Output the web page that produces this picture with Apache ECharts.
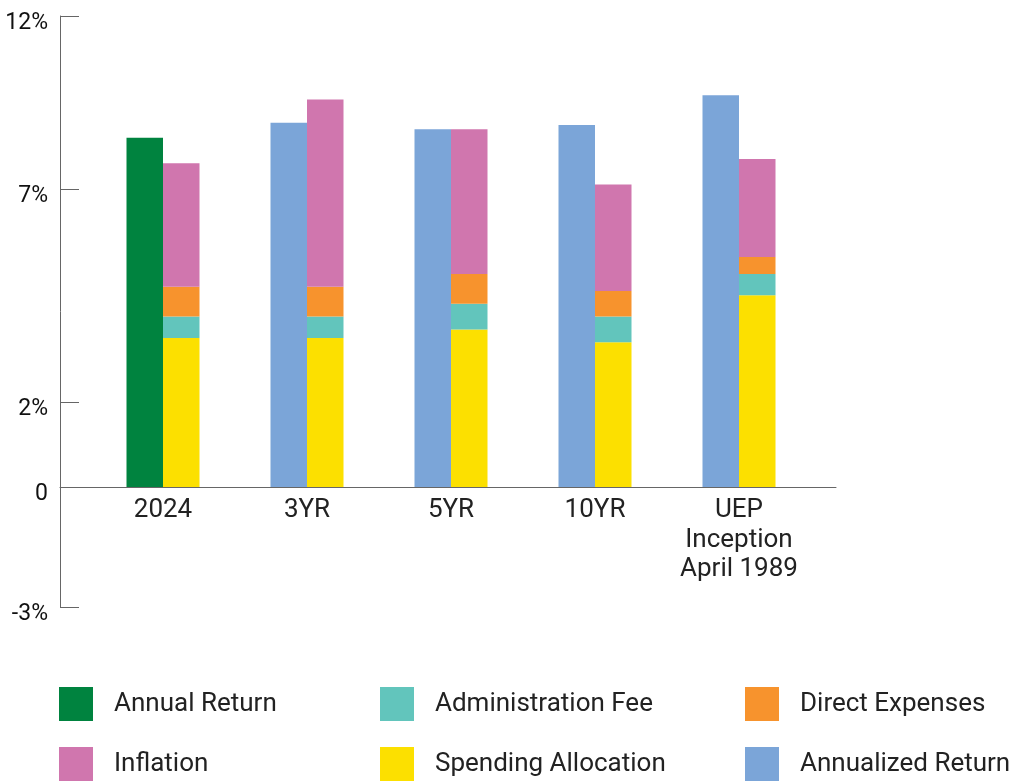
<!DOCTYPE html>
<html>
<head>
<meta charset="utf-8">
<script src="https://cdn.jsdelivr.net/npm/echarts@6/dist/echarts.min.js"></script>
<style>
  html, body { margin: 0; padding: 0; background: #fff; }
  #chart { width: 1016px; height: 781px; }
</style>
</head>
<body>
<div id="chart"></div>
<script>
  // categories along the x axis
  const categories = ['2024', '3YR', '5YR', '10YR', 'UEP\nInception\nApril 1989']
  // returns (left bar of each group)
  const annualReturn = [8.2, '-', '-', '-', '-']
  const annualizedReturn = ['-', 8.55, 8.4, 8.5, 9.2]
  // right stacked bar, bottom to top
  const spendingAllocation = [3.5, 3.5, 3.7, 3.4, 4.5]
  const administrationFee = [0.5, 0.5, 0.6, 0.6, 0.5]
  const directExpenses = [0.7, 0.7, 0.7, 0.6, 0.4]
  const inflation = [2.9, 4.4, 3.4, 2.5, 2.3]
  // y axis ticks as drawn in the picture
  const yTickValues = [-2.82, 0, 2, 7, 11.06]
  const yTickLabels = ['-3%', '0', '2%', '7%', '12%']

  const chart = echarts.init(document.getElementById('chart'))

  const yMin = yTickValues[0]
  const yMax = yTickValues[yTickValues.length - 1]

  const legendBase = {
    orient: 'vertical',
    top: 687,
    padding: 0,
    itemWidth: 34,
    itemHeight: 34,
    itemGap: 26,
    icon: 'rect',
    selectedMode: false,
    textStyle: {
      fontFamily: 'Roboto',
      fontSize: 26,
      color: '#222',
      padding: [4, 0, 0, 16]
    }
  }

  function barSeries (name, stack, color, data) {
    return {
      name: name,
      type: 'bar',
      stack: stack,
      xAxisIndex: 1,
      yAxisIndex: 1,
      barWidth: 36.5,
      barGap: '0%',
      itemStyle: { color: color },
      data: data
    }
  }

  chart.setOption({
    animation: false,
    backgroundColor: '#fff',
    grid: [
      // frame: y axis and the full-length zero line
      { left: 60, right: 180, top: 16, bottom: 174 },
      // bars
      { left: 91, right: 205, top: 16, bottom: 174 }
    ],
    legend: [
      Object.assign({}, legendBase, { left: 59, data: ['Annual Return', 'Inflation'] }),
      Object.assign({}, legendBase, { left: 380, data: ['Administration Fee', 'Spending Allocation'] }),
      Object.assign({}, legendBase, { left: 745, data: ['Direct Expenses', 'Annualized Return'] })
    ],
    xAxis: [
      {
        gridIndex: 0,
        type: 'value',
        min: 0,
        max: 1,
        offset: -120,
        splitLine: { show: false },
        axisTick: { show: false },
        axisLabel: { show: false },
        axisLine: {
          show: true,
          onZero: false,
          lineStyle: { color: '#666', width: 1 }
        }
      },
      {
        gridIndex: 1,
        type: 'category',
        data: categories,
        offset: -120,
        axisTick: { show: false },
        axisLine: { show: false, onZero: false },
        axisLabel: {
          interval: 0,
          margin: 9,
          fontFamily: 'Roboto',
          fontSize: 26,
          lineHeight: 29.5,
          color: '#222',
          align: 'center'
        }
      }
    ],
    yAxis: [
      {
        gridIndex: 0,
        type: 'value',
        min: yMin,
        max: yMax,
        splitLine: { show: false },
        axisLine: {
          show: true,
          onZero: false,
          lineStyle: { color: '#666', width: 1 }
        },
        axisTick: {
          show: true,
          inside: true,
          length: 19,
          customValues: yTickValues,
          lineStyle: { color: '#666', width: 1 }
        },
        axisLabel: {
          customValues: yTickValues,
          formatter: function (val) {
            let idx = yTickValues.findIndex(t => Math.abs(t - val) < 0.001)
            return idx >= 0 ? '{t|' + yTickLabels[idx] + '}' : ''
          },
          margin: 12,
          rich: {
            t: {
              fontFamily: 'Roboto',
              fontSize: 23,
              color: '#111',
              padding: [14, 0, 0, 0]
            }
          }
        }
      },
      {
        gridIndex: 1,
        type: 'value',
        min: yMin,
        max: yMax,
        show: false
      }
    ],
    series: [
      barSeries('Annual Return', 'ret', '#00833F', annualReturn),
      barSeries('Annualized Return', 'ret', '#7BA5D8', annualizedReturn),
      barSeries('Spending Allocation', 'costs', '#FCE000', spendingAllocation),
      barSeries('Administration Fee', 'costs', '#62C5BC', administrationFee),
      barSeries('Direct Expenses', 'costs', '#F7932D', directExpenses),
      barSeries('Inflation', 'costs', '#D076AE', inflation)
    ]
  })
</script>
</body>
</html>
